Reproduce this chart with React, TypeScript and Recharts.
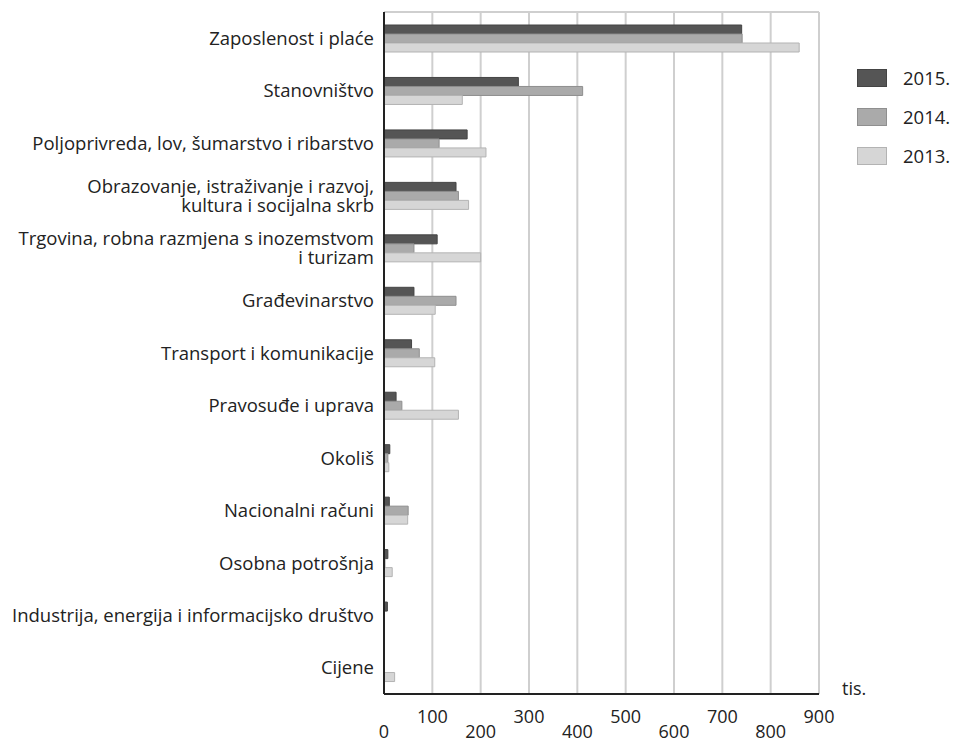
import React from "react";
import {
  BarChart,
  Bar,
  XAxis,
  YAxis,
  CartesianGrid,
} from "recharts";

const categories = [
  "Zaposlenost i plaće",
  "Stanovništvo",
  "Poljoprivreda, lov, šumarstvo i ribarstvo",
  "Obrazovanje, istraživanje i razvoj,\nkultura i socijalna skrb",
  "Trgovina, robna razmjena s inozemstvom\ni turizam",
  "Građevinarstvo",
  "Transport i komunikacije",
  "Pravosuđe i uprava",
  "Okoliš",
  "Nacionalni računi",
  "Osobna potrošnja",
  "Industrija, energija i informacijsko društvo",
  "Cijene",
];

const values2015 = [740, 278, 172, 149, 110, 62, 57, 25, 12, 11, 8, 7, 0];
const values2014 = [741, 411, 114, 154, 62, 149, 73, 37, 8, 50, 2, 0, 0];
const values2013 = [859, 162, 211, 175, 200, 106, 105, 154, 10, 49, 17, 0, 22];

const xTicks = [0, 100, 200, 300, 400, 500, 600, 700, 800, 900];

const seriesNames = ["2015.", "2014.", "2013."];
const fills = ["#555555", "#aaaaaa", "#d6d6d6"];
const strokes = ["#444444", "#8f8f8f", "#b3b3b3"];

const data = categories.map((c, i) => ({
  name: c,
  y2015: values2015[i],
  y2014: values2014[i],
  y2013: values2013[i],
}));

const FONT = "'Open Sans', sans-serif";

const YTick = (props: any) => {
  const { x, y, payload } = props;
  const lines = String(payload.value).split("\n");
  const lh = 19;
  const start = -((lines.length - 1) * lh) / 2;
  return (
    <g>
      {lines.map((l, i) => (
        <text
          key={i}
          x={x}
          y={y + start + i * lh}
          dy="0.36em"
          textAnchor="end"
          fontFamily={FONT}
          fontSize={18.5}
          fill="#222"
        >
          {l}
        </text>
      ))}
    </g>
  );
};

const XTick = (props: any) => {
  const { x, y, payload } = props;
  const v = payload.value as number;
  const odd = (v / 100) % 2 === 1;
  return (
    <text
      x={x}
      y={y + (odd ? 21 : 36)}
      textAnchor="middle"
      dy="0.36em"
      fontFamily={FONT}
      fontSize={18}
      fill="#222"
    >
      {v}
    </text>
  );
};

export default function App() {
  return (
    <div
      style={{
        position: "absolute",
        left: 0,
        top: 0,
        width: 954,
        height: 744,
        background: "#fff",
        overflow: "hidden",
      }}
    >
      <BarChart
        width={954}
        height={744}
        data={data}
        layout="vertical"
        margin={{ top: 12, right: 135, bottom: 0, left: 0 }}
        barSize={9}
        barGap={0}
      >
        <CartesianGrid
          stroke="#cfcfcf"
          strokeWidth={2}
          horizontalCoordinatesGenerator={(p: any) => [p.offset.top]}
        />
        <XAxis
          type="number"
          domain={[0, 900]}
          ticks={xTicks}
          height={50}
          axisLine={{ stroke: "#222", strokeWidth: 2 }}
          tickLine={false}
          tickSize={0}
          tick={<XTick />}
          interval={0}
        />
        <YAxis
          type="category"
          dataKey="name"
          width={384}
          axisLine={{ stroke: "#222", strokeWidth: 2 }}
          tickLine={false}
          tickSize={0}
          tickMargin={10}
          tick={<YTick />}
          interval={0}
        />
        <Bar
          dataKey="y2015"
          name="2015."
          fill={fills[0]}
          stroke={strokes[0]}
          isAnimationActive={false}
        />
        <Bar
          dataKey="y2014"
          name="2014."
          fill={fills[1]}
          stroke={strokes[1]}
          isAnimationActive={false}
        />
        <Bar
          dataKey="y2013"
          name="2013."
          fill={fills[2]}
          stroke={strokes[2]}
          isAnimationActive={false}
        />
      </BarChart>
      {seriesNames.map((n, i) => (
        <div
          key={n}
          style={{
            position: "absolute",
            left: 857,
            top: 69 + i * 39,
            height: 18,
            display: "flex",
            alignItems: "center",
          }}
        >
          <div
            style={{
              width: 28,
              height: 16,
              background: fills[i],
              border: `1px solid ${strokes[i]}`,
            }}
          />
          <span
            style={{
              marginLeft: 16,
              fontFamily: FONT,
              fontSize: 18.5,
              color: "#222",
              lineHeight: "18px",
            }}
          >
            {n}
          </span>
        </div>
      ))}
      <div
        style={{
          position: "absolute",
          left: 842,
          top: 677,
          fontFamily: FONT,
          fontSize: 18,
          color: "#222",
          lineHeight: "22px",
        }}
      >
        tis.
      </div>
    </div>
  );
}
